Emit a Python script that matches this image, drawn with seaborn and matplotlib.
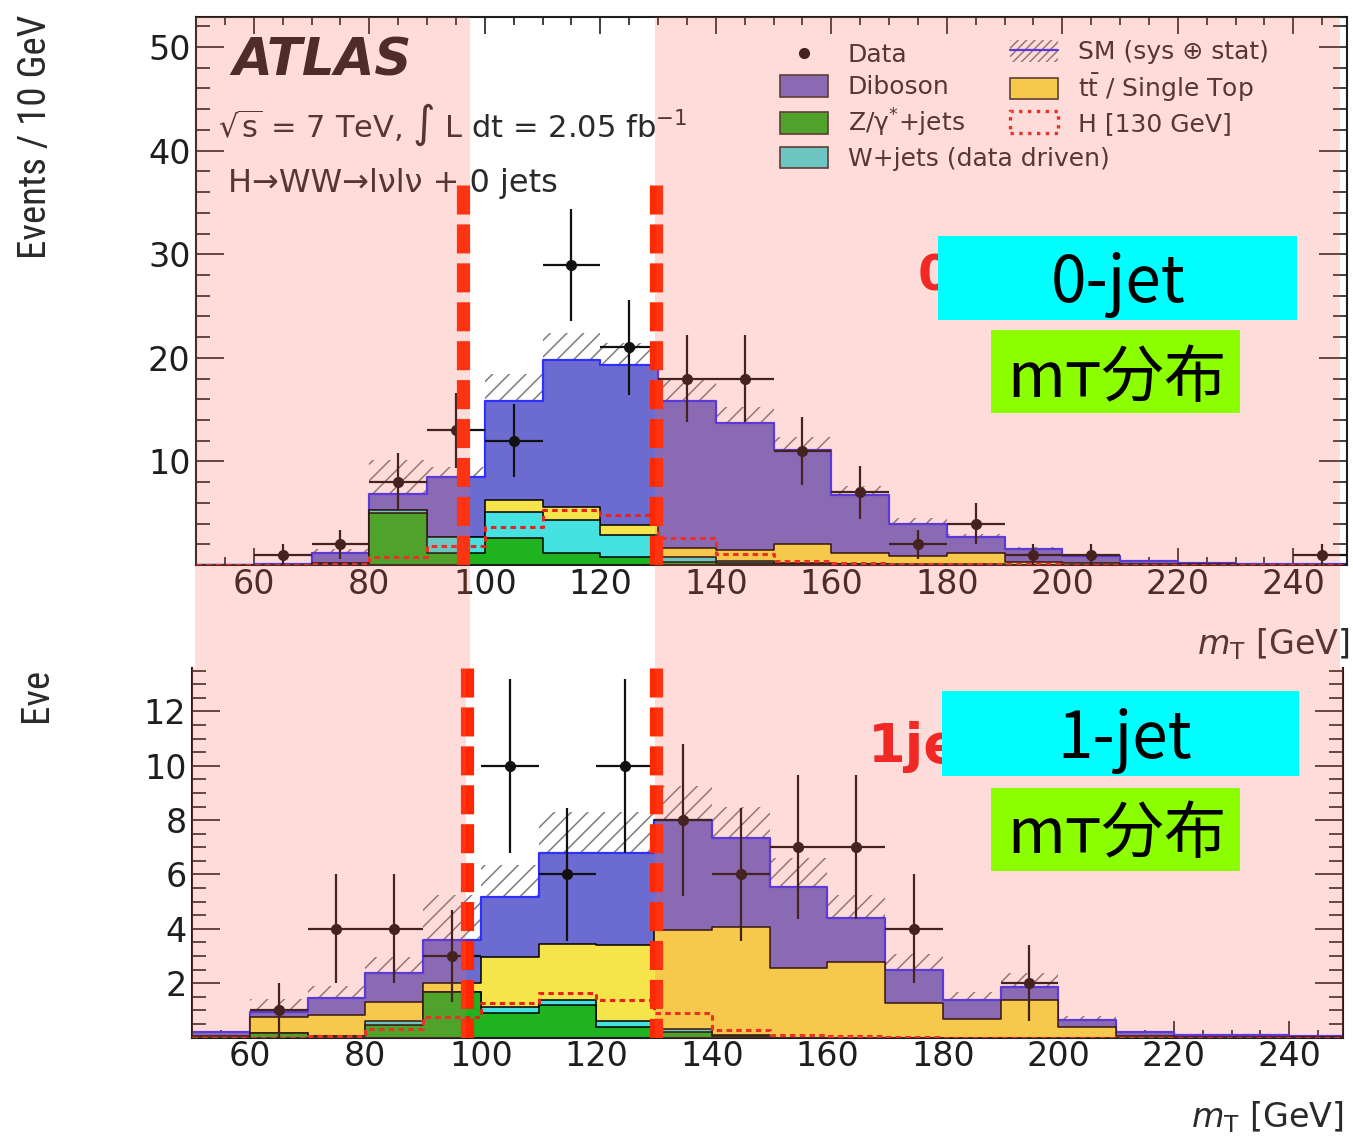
import numpy as np
import pandas as pd
import matplotlib
matplotlib.use("Agg")
import matplotlib.pyplot as plt
import seaborn as sns
from matplotlib.patches import Rectangle, Patch
from matplotlib.lines import Line2D
from matplotlib.ticker import MultipleLocator, FixedLocator
from matplotlib import font_manager

# ---------------- data ----------------
bin_edges = [50, 60, 70, 80, 90, 100, 110, 120, 130, 140, 150,
             160, 170, 180, 190, 200, 210, 220, 230, 240, 250]
bin_centers = [55, 65, 75, 85, 95, 105, 115, 125, 135, 145,
               155, 165, 175, 185, 195, 205, 215, 225, 235, 245]

# 0-jet panel
zjets_0 = [0, 0, 0.1, 5.0, 1.2, 2.6, 1.15, 0.8, 0.3, 0.2, 0.1, 0.05, 0, 0, 0, 0, 0, 0, 0, 0]
wjets_0 = [0, 0, 0, 0.3, 1.5, 2.55, 3.2, 2.1, 0.5, 0.2, 0.1, 0.05, 0.05, 0.05, 0, 0, 0, 0, 0, 0]
top_0 = [0, 0, 0.1, 0, 0, 1.15, 1.25, 1.0, 0.8, 1.05, 1.8, 1.1, 0.85, 1.15, 0.3, 0.15, 0.1, 0.05, 0, 0]
diboson_0 = [0, 0.1, 1.0, 1.6, 5.8, 9.5, 14.2, 15.4, 14.2, 12.3, 9.1, 5.6, 3.1, 1.5, 1.25, 0.75, 0.25, 0.1, 0.08, 0.05]
sm_err_0 = [0, 0.1, 0.3, 3.2, 1.0, 2.6, 2.6, 2.1, 2.1, 1.55, 1.3, 0.8, 0.5, 0.25, 0.2, 0.1, 0.05, 0.05, 0, 0]
higgs_0 = [0, 0, 0.1, 0.8, 1.8, 3.7, 5.3, 4.8, 2.6, 1.1, 0.4, 0.2, 0.1, 0.05, 0.05, 0, 0, 0, 0, 0]
data_0 = [0, 1, 2, 8, 13, 12, 29, 21, 18, 18, 11, 7, 2, 4, 1, 1, 0, 0, 0, 1]
data_err_0 = [0, 1.0, 1.4, 2.8, 3.6, 3.5, 5.4, 4.6, 4.2, 4.2, 3.3, 2.6, 1.4, 2.0, 1.0, 1.0, 0, 0, 0, 1.0]
cuts_0 = [96.3, 129.7]
cut_top_0 = 36.7

# 1-jet panel
zjets_1 = [0, 0.15, 0.05, 0.46, 1.69, 0.89, 1.2, 0.4, 0.2, 0.05, 0, 0, 0, 0, 0, 0, 0, 0, 0, 0]
wjets_1 = [0, 0.02, 0, 0.16, 0, 0.24, 0.18, 0.22, 0.1, 0.03, 0, 0, 0, 0, 0, 0, 0, 0, 0, 0]
top_1 = [0.05, 0.6, 0.78, 0.7, 0.33, 1.85, 2.06, 2.78, 3.66, 4.0, 2.55, 2.79, 1.26, 0.67, 1.38, 0.4, 0.05, 0.02, 0.02, 0.01]
diboson_1 = [0.15, 0.18, 0.62, 1.04, 1.58, 2.18, 3.36, 3.4, 4.04, 3.26, 3.0, 1.6, 1.23, 0.71, 0.49, 0.24, 0.15, 0.08, 0.06, 0.04]
sm_err_1 = [0.05, 0.45, 0.45, 0.62, 1.65, 1.2, 1.5, 1.5, 1.24, 1.16, 1.05, 0.86, 0.6, 0.3, 0.5, 0.16, 0.05, 0.02, 0.02, 0.02]
higgs_1 = [0, 0, 0.05, 0.3, 0.77, 1.26, 1.63, 1.38, 0.89, 0.28, 0.1, 0.05, 0.03, 0, 0, 0, 0, 0, 0, 0]
data_1 = [0, 1, 4, 4, 3, 10, 6, 10, 8, 6, 7, 7, 4, 0, 2, 0, 0, 0, 0, 0]
data_err_1 = [0, 1.0, 2.0, 2.0, 1.7, 3.2, 2.45, 3.2, 2.8, 2.45, 2.65, 2.65, 2.0, 0, 1.4, 0, 0, 0, 0, 0]
cuts_1 = [97.7, 130.3]

y_ticks_0 = [10, 20, 30, 40, 50]
y_ticks_1 = [2, 4, 6, 8, 10, 12]
x_ticks = [60, 80, 100, 120, 140, 160, 180, 200, 220, 240]

legend_col1 = ["Data", "Diboson", "Z/\u03b3$^{*}$+jets", "W+jets (data driven)"]
legend_col2 = ["SM (sys \u2295 stat)", r"t$\bar{\mathrm{t}}$ / Single Top", "H [130 GeV]"]

# ---------------- style ----------------
sns.set_style("ticks")
plt.rcParams["font.family"] = ["DejaVu Sans"]
plt.rcParams["hatch.linewidth"] = 1.1
plt.rcParams["mathtext.fontset"] = "dejavusans"


def pick_narrow():
    names = {f.name for f in font_manager.fontManager.ttflist}
    for n in ["Liberation Sans Narrow", "Roboto Condensed", "Open Sans Condensed",
              "DejaVu Sans Condensed", "Noto Sans Condensed"]:
        if n in names:
            return dict(family=n), 28
    for f in font_manager.fontManager.ttflist:
        if f.name == "DejaVu Sans" and "Condensed" in f.fname and f.style == "normal" \
                and "Bold" not in f.fname and "Oblique" not in f.fname:
            return dict(family="DejaVu Sans", stretch="condensed"), 24
    if "Liberation Sans" in names:
        return dict(family="Liberation Sans"), 24
    return dict(family="DejaVu Sans"), 21


narrow_kw, ylab_size = pick_narrow()
cjk = ["Noto Sans CJK JP", "DejaVu Sans"]

purple = "#6c6cd0"
blue_edge = "#2f2fff"
yellow = "#f6e54a"
cyan = "#46e2e2"
green = "#1fb41f"
hred = "#e8221c"
cutred = "#ff2600"
ink = "#1e1e1e"

W, H = 1353, 1138
fig = plt.figure(figsize=(W / 100, H / 100), dpi=100)


def fx(px):
    return px / W


def fy(py):
    return 1 - py / H


def add_axes(l, t, r, b):
    return fig.add_axes([fx(l), fy(b), (r - l) / W, (b - t) / H])


ax0 = add_axes(196, 17, 1347, 565)
ax1 = add_axes(192, 668, 1343, 1037.5)


def draw_panel(ax, z, w, t, d, err, h, data, derr, cuts, cut_top):
    e = np.asarray(bin_edges, float)
    c = np.asarray(bin_centers, float)
    g = np.asarray(z, float)
    gw = g + np.asarray(w, float)
    gwt = gw + np.asarray(t, float)
    tot = gwt + np.asarray(d, float)
    err = np.asarray(err, float)
    df = pd.DataFrame({"mt": c, "tot": tot, "gwt": gwt, "gw": gw, "g": g,
                       "h": np.asarray(h, float)})
    # SM uncertainty band (hatched)
    ax.bar(e[:-1], 2 * err, bottom=tot - err, width=np.diff(e), align="edge",
           fill=False, hatch="//", edgecolor="#7c7c7c", linewidth=0, zorder=1)
    # stacked backgrounds drawn as cumulative step histograms
    for col, fc, ec, lw in [("tot", purple, blue_edge, 1.6),
                            ("gwt", yellow, "black", 1.1),
                            ("gw", cyan, "black", 1.1),
                            ("g", green, "black", 1.1)]:
        sns.histplot(data=df, x="mt", weights=col, bins=list(bin_edges), element="step",
                     fill=True, color=fc, edgecolor=ec, linewidth=lw, alpha=1,
                     ax=ax, zorder=2)
    # Higgs signal
    sns.histplot(data=df, x="mt", weights="h", bins=list(bin_edges), element="step",
                 fill=False, color=hred, linewidth=2.2, linestyle=(0, (1.8, 1.4)),
                 ax=ax, zorder=3)
    # data
    data = np.asarray(data, float)
    derr = np.asarray(derr, float)
    m = data > 0
    ax.errorbar(c[m], data[m], xerr=(np.diff(e) / 2)[m], yerr=derr[m], fmt="o",
                color="#111111", ms=7, elinewidth=1.6, capsize=0, zorder=4)
    # signal-region cut lines
    ax.vlines(cuts, cut_top, 0, colors=cutred, linewidth=9.5,
              linestyles=[(0, (2.2, 0.75))], zorder=5)
    ax.set_xlabel("")
    ax.set_ylabel("")


draw_panel(ax0, zjets_0, wjets_0, top_0, diboson_0, sm_err_0, higgs_0,
           data_0, data_err_0, cuts_0, cut_top_0)
draw_panel(ax1, zjets_1, wjets_1, top_1, diboson_1, sm_err_1, higgs_1,
           data_1, data_err_1, cuts_1, 13.6)

for ax, yt, yminor, ytop in [(ax0, y_ticks_0, 2, 52.9), (ax1, y_ticks_1, 0.5, 13.6)]:
    ax.set_xlim(50, 249.3)
    ax.set_ylim(0, ytop)
    ax.xaxis.set_major_locator(FixedLocator(x_ticks))
    ax.xaxis.set_minor_locator(MultipleLocator(5))
    ax.yaxis.set_major_locator(FixedLocator(yt))
    ax.yaxis.set_minor_locator(MultipleLocator(yminor))
    ax.tick_params(axis="both", which="both", direction="in", colors=ink,
                   labelsize=24, width=1.2, right=True)
    ax.tick_params(axis="y", which="major", length=20, pad=4)
    ax.tick_params(axis="y", which="minor", length=10)
    ax.tick_params(axis="x", which="major", length=12, pad=2)
    ax.tick_params(axis="x", which="minor", length=6)
    for s in ax.spines.values():
        s.set_linewidth(1.5)
        s.set_color(ink)
    ax.set_facecolor("white")

ax0.tick_params(axis="x", which="both", top=True)
ax1.tick_params(axis="x", which="both", top=False)
ax1.spines["top"].set_visible(False)

# ---------------- legend ----------------
def ax_x(px):
    return (px - 196) / (1347 - 196)


def ax_y(py):
    return (565 - py) / (565 - 17)


h_col1 = [Line2D([], [], marker="o", color="#111111", ls="none", ms=7),
          Patch(facecolor=purple, edgecolor="#333333", linewidth=1.2),
          Patch(facecolor=green, edgecolor="#333333", linewidth=1.2),
          Patch(facecolor=cyan, edgecolor="#333333", linewidth=1.2)]
h_col2 = [(Patch(facecolor="none", hatch="////", edgecolor="#7c7c7c", linewidth=0),
           Line2D([], [], color=blue_edge, lw=1.6)),
          Patch(facecolor=yellow, edgecolor="#333333", linewidth=1.2),
          Patch(facecolor="none", edgecolor=hred, linestyle=":", linewidth=2.4)]
leg_kw = dict(loc="upper left", frameon=False, fontsize=18, borderpad=0,
              borderaxespad=0, handlelength=1.9, handleheight=0.96,
              handletextpad=0.8, labelspacing=0.3, labelcolor="#2a2a2a")
leg1 = ax0.legend(h_col1, legend_col1, bbox_to_anchor=(ax_x(780), ax_y(43)), **leg_kw)
ax0.add_artist(leg1)
ax0.legend(h_col2, legend_col2, bbox_to_anchor=(ax_x(1010), ax_y(40)), **leg_kw)

# ---------------- texts ----------------
fig.text(fx(232), fy(75), "ATLAS", fontsize=37, fontweight="bold", fontstyle="italic",
         color=ink, va="baseline", zorder=4)
fig.text(fx(218), fy(137), r"$\sqrt{\mathrm{s}}$ = 7 TeV, $\int$ L dt = 2.05 fb$^{-1}$",
         fontsize=22, color="#2a2a2a", va="baseline", zorder=4)
fig.text(fx(228), fy(192), "H\u2192WW\u2192l\u03bdl\u03bd + 0 jets", fontsize=23,
         color="#2a2a2a", va="baseline", zorder=4)

fig.text(fx(36), fy(137), "Events / 10 GeV", rotation=90, ha="center", va="center",
         fontsize=ylab_size, color="#2a2a2a", zorder=4, **narrow_kw)
fig.text(fx(36), fy(722), "Eve", rotation=90, ha="center", va="bottom",
         fontsize=ylab_size, color="#2a2a2a", zorder=4, **narrow_kw)

fig.text(fx(1350), fy(654), r"$m_{\mathrm{T}}$ [GeV]", ha="right", va="baseline",
         fontsize=24, color="#2a2a2a", zorder=4)
fig.text(fx(1344), fy(1127), r"$m_{\mathrm{T}}$ [GeV]", ha="right", va="baseline",
         fontsize=24, color="#2a2a2a", zorder=4)

# red panel tags partly hidden behind the label boxes
fig.text(fx(918), fy(290), "0jet", fontsize=35, fontweight="bold", color="#f01818",
         va="baseline", zorder=5)
fig.text(fx(868), fy(762), "1jet", fontsize=39, fontweight="bold", color="#f01818",
         va="baseline", zorder=5)

# pink translucent overlay outside the signal window
pink = (0.98, 0.39, 0.33, 0.22)
for (l, t, r, b) in [(195, 17, 470, 668), (655, 17, 1340, 668),
                     (192, 668, 466, 1037.5), (655, 668, 1343, 1037.5)]:
    fig.add_artist(Rectangle((fx(l), fy(b)), (r - l) / W, (b - t) / H,
                             transform=fig.transFigure, facecolor=pink,
                             edgecolor="none", zorder=10))

# label boxes
boxes = [((938, 236, 1297, 320), "#00ffff"), ((991, 330, 1240, 413), "#8cff00"),
         ((942, 691, 1299, 776), "#00ffff"), ((991, 788, 1240, 871), "#8cff00")]
for (l, t, r, b), col in boxes:
    fig.add_artist(Rectangle((fx(l), fy(b)), (r - l) / W, (b - t) / H,
                             transform=fig.transFigure, facecolor=col,
                             edgecolor="none", zorder=11))

fig.text(fx(1118), fy(302), "0-jet", fontsize=46, family=cjk, color="black",
         ha="center", va="baseline", zorder=12)
fig.text(fx(1117), fy(397), "m\u1d1b分布", fontsize=45, family=cjk, color="black",
         ha="center", va="baseline", zorder=12)
fig.text(fx(1125), fy(758), "1-jet", fontsize=46, family=cjk, color="black",
         ha="center", va="baseline", zorder=12)
fig.text(fx(1117), fy(853), "m\u1d1b分布", fontsize=45, family=cjk, color="black",
         ha="center", va="baseline", zorder=12)

fig.savefig("out.png", dpi=100)
